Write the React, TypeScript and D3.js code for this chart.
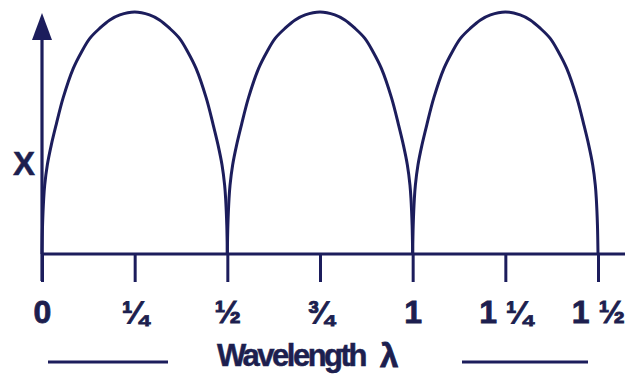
import { useRef, useEffect } from 'react';
import * as d3 from 'd3';

// wavelength ticks (in units of lambda) and their labels
const TICK_VALUES = [0, 0.25, 0.5, 0.75, 1, 1.25, 1.5];
const TICK_LABELS = ['0', '¼', '½', '¾', '1', '1 ¼', '1 ½'];

// each arch starts at one of these wavelengths
const ARCH_STARTS = [0, 0.5, 1.0];

// left half of an arch: offset from arch start (lambda) and height
const HALF_ARCH_OFFSET = [0, 0.0015, 0.0046, 0.0073, 0.0143, 0.025, 0.038, 0.057, 0.0844, 0.107, 0.129, 0.156, 0.183, 0.21, 0.25];
const HALF_ARCH_HEIGHT = [0, 0.12, 0.23, 0.285, 0.368, 0.45, 0.533, 0.645, 0.767, 0.836, 0.891, 0.933, 0.967, 0.988, 1.0];

const INK = '#1c1d5c';
const TEXT_INK = '#1d1f4f';
const FONT = '"Liberation Sans", Arial, sans-serif';

function WavelengthChart() {
  const svgRef = useRef<SVGSVGElement>(null);

  useEffect(() => {
    const svg = d3.select(svgRef.current);
    svg.selectAll('*').remove();

    const W = 625, H = 379;
    svg.attr('width', W).attr('height', H).attr('viewBox', `0 0 ${W} ${H}`);

    const x = d3.scaleLinear().domain([0, 1.5]).range([42, 598]);
    const y = d3.scaleLinear().domain([0, 1]).range([254, 12]);

    // arches
    const line = d3.line<[number, number]>()
      .x(d => x(d[0]))
      .y(d => y(d[1]))
      .curve(d3.curveCatmullRom.alpha(0.5));

    const n = HALF_ARCH_OFFSET.length;
    ARCH_STARTS.forEach(start => {
      const left: [number, number][] = HALF_ARCH_OFFSET.map((o, i) => [start + o, HALF_ARCH_HEIGHT[i]]);
      const right: [number, number][] = [];
      for (let i = n - 2; i >= 0; i--) right.push([start + 0.5 - HALF_ARCH_OFFSET[i], HALF_ARCH_HEIGHT[i]]);
      svg.append('path')
        .datum(left.concat(right))
        .attr('fill', 'none')
        .attr('stroke', INK)
        .attr('stroke-width', 3)
        .attr('stroke-linejoin', 'round')
        .attr('d', line);
    });

    // x axis line runs to the edge
    const axisY = y(0);
    svg.append('line')
      .attr('x1', x(0)).attr('x2', W)
      .attr('y1', axisY).attr('y2', axisY)
      .attr('stroke', INK).attr('stroke-width', 3.2);

    // ticks
    const ax = svg.append('g')
      .attr('transform', `translate(0,${axisY})`)
      .call(d3.axisBottom(x).tickValues(TICK_VALUES).tickSize(28).tickSizeOuter(0)
        .tickFormat((d, i) => TICK_LABELS[i]));
    ax.select('.domain').remove();
    ax.selectAll('.tick line').attr('stroke', INK).attr('stroke-width', 3);
    ax.selectAll('.tick text')
      .attr('y', 69).attr('dy', 0)
      .attr('fill', TEXT_INK)
      .attr('stroke', TEXT_INK).attr('stroke-width', 0.8)
      .style('font-family', FONT)
      .style('font-weight', 'bold')
      .style('font-size', '32px');

    // y axis with arrow
    svg.append('line')
      .attr('x1', x(0)).attr('x2', x(0))
      .attr('y1', 36).attr('y2', 281)
      .attr('stroke', INK).attr('stroke-width', 3.2);
    svg.append('path')
      .attr('d', `M${x(0)},13 L${x(0) + 10},40 L${x(0) - 10},40 Z`)
      .attr('fill', INK);

    svg.append('text')
      .attr('x', 13).attr('y', 175)
      .attr('fill', TEXT_INK)
      .attr('stroke', TEXT_INK).attr('stroke-width', 0.5)
      .style('font-family', FONT).style('font-weight', 'bold').style('font-size', '33px')
      .text('X');

    // x axis title with rules either side
    svg.append('text')
      .attr('x', 217).attr('y', 366)
      .attr('fill', TEXT_INK)
      .attr('stroke', TEXT_INK).attr('stroke-width', 0.5)
      .style('font-family', FONT).style('font-weight', 'bold').style('font-size', '31px')
      .style('letter-spacing', '-2.5px')
      .text('Wavelength');
    svg.append('text')
      .attr('x', 380).attr('y', 367)
      .attr('fill', TEXT_INK)
      .attr('stroke', TEXT_INK).attr('stroke-width', 0.8)
      .style('font-family', FONT).style('font-weight', 'bold').style('font-size', '33px')
      .text('λ');

    const rules = [[48, 168], [462, 588]];
    rules.forEach(([a, b]) => {
      svg.append('line')
        .attr('x1', a).attr('x2', b)
        .attr('y1', 362).attr('y2', 362)
        .attr('stroke', INK).attr('stroke-width', 3);
    });
  }, []);

  return <svg ref={svgRef} style={{ position: 'absolute', left: 0, top: 0, background: '#fff' }}></svg>;
}

export default function App() {
  return <WavelengthChart />;
}
